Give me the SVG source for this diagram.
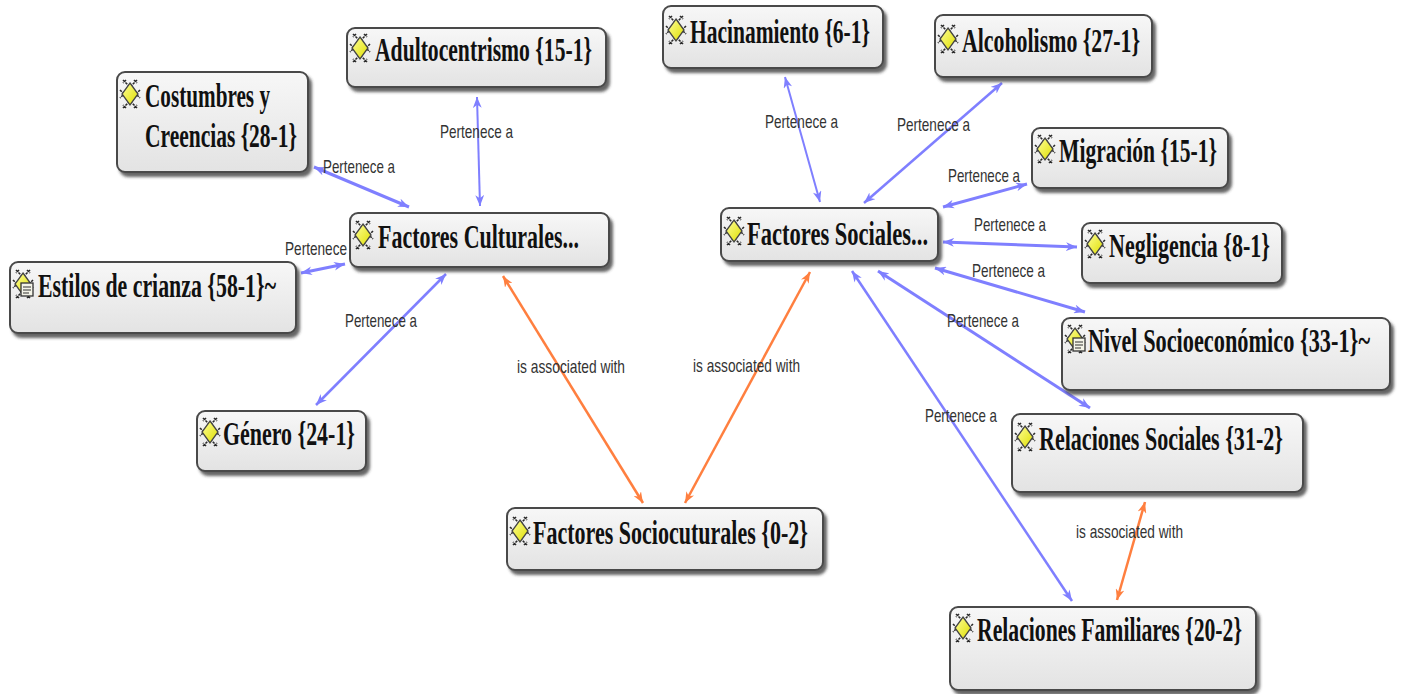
<svg xmlns="http://www.w3.org/2000/svg" xmlns:xlink="http://www.w3.org/1999/xlink" width="1402" height="694" viewBox="0 0 1402 694">
<style>
.box{fill:url(#boxg);stroke:#4a4a4a;stroke-width:2;filter:url(#sh)}
.nt{font-family:"Liberation Serif","DejaVu Serif",serif;font-weight:bold;font-size:33px;fill:#111}
.lb{font-family:"Liberation Sans","DejaVu Sans",sans-serif;font-size:19px;fill:#333}
.bl{stroke:#7f7fff;fill:none;marker-start:url(#ab);marker-end:url(#ab)}
.or{stroke:#ff7f3f;fill:none;stroke-width:2.5;marker-start:url(#ao);marker-end:url(#ao)}
</style>
<defs>
<linearGradient id="boxg" x1="0" y1="0" x2="0" y2="1">
<stop offset="0" stop-color="#f7f7f7"/><stop offset="1" stop-color="#e3e3e3"/>
</linearGradient>
<linearGradient id="yg" x1="0" y1="0" x2="1" y2="1">
<stop offset="0" stop-color="#ffff99"/><stop offset="1" stop-color="#dede00"/>
</linearGradient>
<filter id="sh" x="-10%" y="-10%" width="125%" height="140%">
<feDropShadow dx="3" dy="4" stdDeviation="1.5" flood-color="#333" flood-opacity="0.75"/>
</filter>
<marker id="ab" viewBox="0 0 10 8" refX="10" refY="4" markerWidth="11" markerHeight="9" markerUnits="userSpaceOnUse" orient="auto-start-reverse">
<path d="M0,0 L10,4 L0,8 L3,4 z" fill="#7f7fff"/>
</marker>
<marker id="ao" viewBox="0 0 10 8" refX="10" refY="4" markerWidth="11" markerHeight="9" markerUnits="userSpaceOnUse" orient="auto-start-reverse">
<path d="M0,0 L10,4 L0,8 L3,4 z" fill="#ff7f3f"/>
</marker>
<g id="ico">
<path d="M3,1 L9,7 M17,1 L11,7 M3,29 L9,23 M17,29 L11,23 M0,11 L4,15 L0,19 M20,11 L16,15 L20,19 M6,1 L3,4 M14,1 L17,4 M6,29 L3,26 M14,29 L17,26" stroke="#2a2a2a" stroke-width="1.6" stroke-dasharray="2.5 1" fill="none"/>
<polygon points="10,4 18,15 10,26 2,15" fill="url(#yg)" stroke="#444" stroke-width="1.3"/>
</g>
<g id="icomemo">
<use href="#ico"/>
<rect x="8" y="14" width="12" height="13" fill="#f4f4e8" stroke="#333" stroke-width="1.3"/>
<path d="M10,18 H18 M10,21 H18 M10,24 H16" stroke="#333" stroke-width="1"/>
</g>
</defs>
<rect width="1402" height="694" fill="#ffffff"/>

<g id="connectors">
<line class="bl" stroke-width="3" x1="314" y1="167" x2="409" y2="207"/>
<line class="bl" stroke-width="2" x1="477" y1="97" x2="480" y2="206"/>
<line class="bl" stroke-width="3" x1="301" y1="273" x2="345" y2="264"/>
<line class="bl" stroke-width="2.5" x1="446" y1="274" x2="316" y2="405"/>
<line class="bl" stroke-width="2" x1="785" y1="77" x2="820" y2="202"/>
<line class="bl" stroke-width="2.5" x1="1002" y1="83" x2="864" y2="203"/>
<line class="bl" stroke-width="3" x1="943" y1="207" x2="1027" y2="184"/>
<line class="bl" stroke-width="3" x1="943" y1="242" x2="1077" y2="247"/>
<line class="bl" stroke-width="3" x1="935" y1="268" x2="1085" y2="312"/>
<line class="bl" stroke-width="3" x1="878" y1="271" x2="1090" y2="408"/>
<line class="bl" stroke-width="2.5" x1="852" y1="271" x2="1072" y2="601"/>
<line class="or" x1="503" y1="276" x2="643" y2="503"/>
<line class="or" x1="810" y1="272" x2="685" y2="503"/>
<line class="or" stroke-width="2" x1="1145" y1="502" x2="1117" y2="600"/>
<text class="lb" transform="translate(323,173) scale(0.7,1)" textLength="102.9" lengthAdjust="spacingAndGlyphs">Pertenece a</text>
<text class="lb" transform="translate(440,138) scale(0.7,1)" textLength="104.3" lengthAdjust="spacingAndGlyphs">Pertenece a</text>
<text class="lb" transform="translate(285,255) scale(0.7,1)" textLength="88.6" lengthAdjust="spacingAndGlyphs">Pertenece</text>
<text class="lb" transform="translate(345,327) scale(0.7,1)" textLength="102.9" lengthAdjust="spacingAndGlyphs">Pertenece a</text>
<text class="lb" transform="translate(765,128) scale(0.7,1)" textLength="104.3" lengthAdjust="spacingAndGlyphs">Pertenece a</text>
<text class="lb" transform="translate(897,131) scale(0.7,1)" textLength="104.3" lengthAdjust="spacingAndGlyphs">Pertenece a</text>
<text class="lb" transform="translate(948,182) scale(0.7,1)" textLength="102.9" lengthAdjust="spacingAndGlyphs">Pertenece a</text>
<text class="lb" transform="translate(974,231) scale(0.7,1)" textLength="102.9" lengthAdjust="spacingAndGlyphs">Pertenece a</text>
<text class="lb" transform="translate(972,277) scale(0.7,1)" textLength="104.3" lengthAdjust="spacingAndGlyphs">Pertenece a</text>
<text class="lb" transform="translate(947,327) scale(0.7,1)" textLength="102.9" lengthAdjust="spacingAndGlyphs">Pertenece a</text>
<text class="lb" transform="translate(925,422) scale(0.7,1)" textLength="102.9" lengthAdjust="spacingAndGlyphs">Pertenece a</text>
<text class="lb" transform="translate(517,373) scale(0.7,1)" textLength="154.3" lengthAdjust="spacingAndGlyphs">is associated with</text>
<text class="lb" transform="translate(693,372) scale(0.7,1)" textLength="152.9" lengthAdjust="spacingAndGlyphs">is associated with</text>
<text class="lb" transform="translate(1076,538) scale(0.7,1)" textLength="152.9" lengthAdjust="spacingAndGlyphs">is associated with</text>
</g>

<g id="n-adultocentrismo">
<rect class="box" x="347" y="28" width="259" height="59" rx="8"/>
<use href="#ico" x="350" y="33"/>
<text class="nt" transform="translate(375,61) scale(0.68,1)" textLength="319.1" lengthAdjust="spacingAndGlyphs">Adultocentrismo {15-1}</text>
</g>
<g id="n-costumbres">
<rect class="box" x="117" y="72" width="191" height="100" rx="8"/>
<use href="#ico" x="120" y="79"/>
<text class="nt" transform="translate(145,107) scale(0.68,1)" textLength="183.8" lengthAdjust="spacingAndGlyphs">Costumbres y</text>
<text class="nt" transform="translate(145,147) scale(0.68,1)" textLength="223.5" lengthAdjust="spacingAndGlyphs">Creencias {28-1}</text>
</g>
<g id="n-culturales">
<rect class="box" x="350" y="213" width="259" height="54" rx="8"/>
<use href="#ico" x="353" y="220"/>
<text class="nt" transform="translate(378,248) scale(0.68,1)" textLength="295.6" lengthAdjust="spacingAndGlyphs">Factores Culturales...</text>
</g>
<g id="n-estilos">
<rect class="box" x="10" y="262" width="286" height="71" rx="8"/>
<use href="#icomemo" x="13" y="269"/>
<text class="nt" transform="translate(38,297) scale(0.68,1)" textLength="350" lengthAdjust="spacingAndGlyphs">Estilos de crianza {58-1}~</text>
</g>
<g id="n-genero">
<rect class="box" x="197" y="411" width="169" height="60" rx="8"/>
<use href="#ico" x="200" y="417"/>
<text class="nt" transform="translate(223,445) scale(0.68,1)" textLength="194.1" lengthAdjust="spacingAndGlyphs">Género {24-1}</text>
</g>
<g id="n-sociocuturales">
<rect class="box" x="507" y="508" width="316" height="62" rx="8"/>
<use href="#ico" x="510" y="516"/>
<text class="nt" transform="translate(533,544) scale(0.68,1)" textLength="404.4" lengthAdjust="spacingAndGlyphs">Factores Sociocuturales {0-2}</text>
</g>
<g id="n-hacinamiento">
<rect class="box" x="663" y="6" width="220" height="62" rx="8"/>
<use href="#ico" x="666" y="15"/>
<text class="nt" transform="translate(690,43) scale(0.68,1)" textLength="264.7" lengthAdjust="spacingAndGlyphs">Hacinamiento {6-1}</text>
</g>
<g id="n-alcoholismo">
<rect class="box" x="935" y="15" width="217" height="62" rx="8"/>
<use href="#ico" x="938" y="24"/>
<text class="nt" transform="translate(962,52) scale(0.68,1)" textLength="261.8" lengthAdjust="spacingAndGlyphs">Alcoholismo {27-1}</text>
</g>
<g id="n-migracion">
<rect class="box" x="1032" y="128" width="196" height="60" rx="8"/>
<use href="#ico" x="1035" y="134"/>
<text class="nt" transform="translate(1059,162) scale(0.68,1)" textLength="232.4" lengthAdjust="spacingAndGlyphs">Migración {15-1}</text>
</g>
<g id="n-sociales">
<rect class="box" x="721" y="208" width="217" height="53" rx="8"/>
<use href="#ico" x="724" y="216"/>
<text class="nt" transform="translate(747,245) scale(0.68,1)" textLength="266.2" lengthAdjust="spacingAndGlyphs">Factores Sociales...</text>
</g>
<g id="n-negligencia">
<rect class="box" x="1082" y="223" width="200" height="60" rx="8"/>
<use href="#ico" x="1085" y="229"/>
<text class="nt" transform="translate(1109,257) scale(0.68,1)" textLength="236.8" lengthAdjust="spacingAndGlyphs">Negligencia {8-1}</text>
</g>
<g id="n-nivel">
<rect class="box" x="1062" y="318" width="328" height="72" rx="8"/>
<use href="#icomemo" x="1065" y="324"/>
<text class="nt" transform="translate(1088,352) scale(0.68,1)" textLength="414.7" lengthAdjust="spacingAndGlyphs">Nivel Socioeconómico {33-1}~</text>
</g>
<g id="n-relsociales">
<rect class="box" x="1012" y="414" width="291" height="78" rx="8"/>
<use href="#ico" x="1015" y="422"/>
<text class="nt" transform="translate(1039,450) scale(0.68,1)" textLength="358.8" lengthAdjust="spacingAndGlyphs">Relaciones Sociales {31-2}</text>
</g>
<g id="n-relfamiliares">
<rect class="box" x="950" y="607" width="306" height="83" rx="8"/>
<use href="#ico" x="953" y="613"/>
<text class="nt" transform="translate(977,641) scale(0.68,1)" textLength="389.7" lengthAdjust="spacingAndGlyphs">Relaciones Familiares {20-2}</text>
</g>
</svg>
